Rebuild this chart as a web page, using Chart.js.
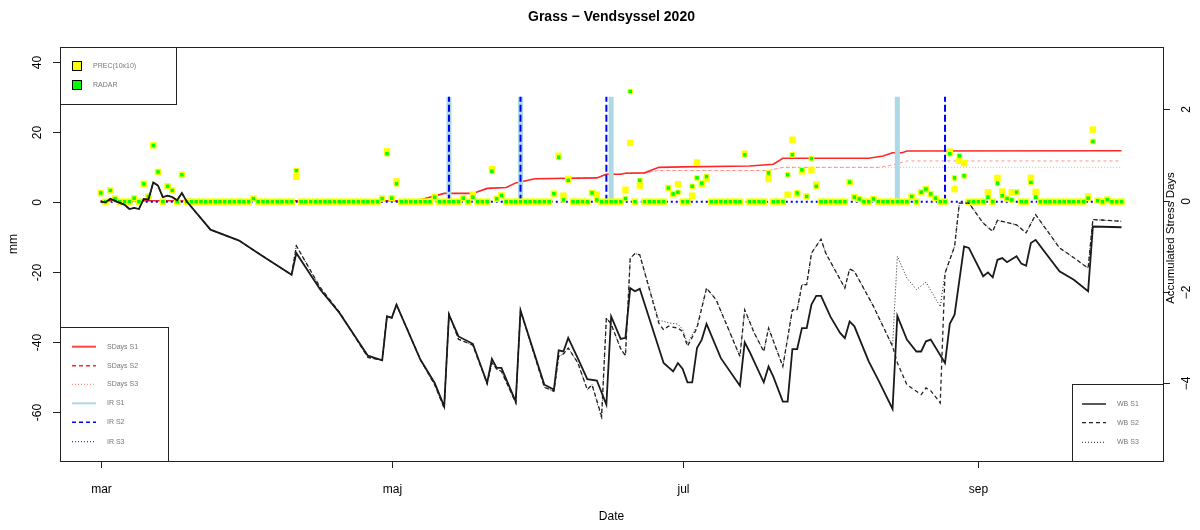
<!DOCTYPE html>
<html>
<head>
<meta charset="utf-8">
<script src="https://cdn.jsdelivr.net/npm/chart.js@4.4.0/dist/chart.umd.min.js"></script>
<style>
  html, body { margin: 0; padding: 0; background: #fff; }
  canvas { display: block; }
</style>
</head>
<body>
<canvas id="grassChart" width="1200" height="530"></canvas>
<script>
// day 0 = 1 March 2020, one value per day up to day 214
const xTickDays = [0, 61, 122, 184];
const xTickLabels = ['mar', 'maj', 'jul', 'sep'];
const yTicks = [-60, -40, -20, 0, 20, 40];
const y2Ticks = [-4, -2, 0, 2];

// daily precipitation, mm (PREC 10x10 grid and radar)
const precVals = [
  2.5, 0, 3.2, 0.9, 0, 0, 0, 1.0, 0, 5.1,
  1.5, 16.1, 8.5, 0, 4.4, 3.2, 0, 7.7, 0, 0,
  0, 0, 0, 0, 0, 0, 0, 0, 0, 0,
  0, 0, 0.9, 0, 0, 0, 0, 0, 0, 0,
  0, 7.1, 0, 0, 0, 0, 0, 0, 0, 0,
  0, 0, 0, 0, 0, 0, 0, 0, 0, 0.9,
  14.4, 1.0, 5.8, 0, 0, 0, 0, 0, 0, 0,
  1.3, 0, 0, 0, 0, 0, 1.0, 0, 2.0, 0,
  0, 0, 9.3, 0.8, 1.8, 0, 0, 0, 0, 0,
  0, 0, 0, 0, 0, 2.3, 13.1, 1.7, 6.5, 0,
  0, 0, 0, 2.5, 2.0, 0, 0, 0, 0, 0,
  3.4, 16.8, 0, 4.6, 0, 0, 0, 0, 0, 3.9,
  2.2, 5.0, 0, 0, 1.7, 11.2, 4.9, 6.5, 0, 0,
  0, 0, 0, 0, 0, 13.7, 0, 0, 0, 0,
  6.5, 0, 0, 0, 2.0, 17.7, 2.3, 8.7, 1.5, 9.1,
  4.9, 0, 0, 0, 0, 0, 0, 5.6, 1.3, 0.8,
  0, 0, 0.8, 0, 0, 0, 0, 0, 0, 0,
  1.5, 0, 2.7, 3.6, 2.2, 1.0, 0, 0, 14.3, 3.6,
  11.7, 11.0, 0, 0, 0, 0, 2.7, 0, 6.8, 2.9,
  0.9, 2.7, 2.7, 0, 0, 6.8, 2.8, 0, 0, 0,
  0, 0, 0, 0, 0, 0, 0, 1.5, 20.6, 0.3,
  0, 0.6, 0, 0, 0
];
const radarVals = [
  2.5, 0, 3.2, 0.9, 0, 0, 0, 1.0, 0, 5.1,
  1.5, 16.1, 8.5, 0, 4.4, 3.2, 0, 7.7, 0, 0,
  0, 0, 0, 0, 0, 0, 0, 0, 0, 0,
  0, 0, 0.9, 0, 0, 0, 0, 0, 0, 0,
  0, 8.9, 0, 0, 0, 0, 0, 0, 0, 0,
  0, 0, 0, 0, 0, 0, 0, 0, 0, 0.9,
  13.7, 1.0, 5.1, 0, 0, 0, 0, 0, 0, 0,
  1.3, 0, 0, 0, 0, 0, 1.0, 0, 1.3, 0,
  0, 0, 8.7, 0.8, 1.8, 0, 0, 0, 0, 0,
  0, 0, 0, 0, 0, 2.3, 12.7, 0.5, 6.1, 0,
  0, 0, 0, 2.5, 0.5, 0, 0, 0, 0, 0,
  0.9, 31.5, 0, 6.1, 0, 0, 0, 0, 0, 3.9,
  2.2, 2.7, 0, 0, 4.4, 6.8, 5.3, 7.2, 0, 0,
  0, 0, 0, 0, 0, 13.4, 0, 0, 0, 0,
  8.2, 0, 0, 0, 7.7, 13.4, 2.5, 9.1, 1.5, 12.3,
  4.4, 0, 0, 0, 0, 0, 0, 5.6, 1.3, 0.8,
  0, 0, 0.8, 0, 0, 0, 0, 0, 0, 0,
  1.5, 0, 2.7, 3.6, 2.2, 1.0, 0, 0, 13.7, 6.8,
  13.1, 7.4, 0, 0, 0, 0, 1.3, 0, 5.3, 1.7,
  0.9, 0.5, 2.7, 0, 0, 5.5, 1.3, 0, 0, 0,
  0, 0, 0, 0, 0, 0, 0, 1.0, 17.2, 0.3,
  0, 0.6, 0, 0, 0
];

// irrigation events, mm
const irS1Days = [73, 88, 107, 167];
const irS1Vals = [30, 30, 30, 30];
const irS2Days = [73, 88, 106, 177];
const irS2Vals = [30, 30, 30, 30];
const irS3 = [[0, 0], [214, 0]];

// accumulated stress days [day, value]
const sdS1 = [[0, 0], [66, 0], [68, 0.05], [72, 0.16], [78, 0.16], [81, 0.27], [85, 0.29], [87, 0.39],
  [91, 0.48], [104, 0.5], [106, 0.58], [109, 0.58], [110, 0.6], [114, 0.61], [117, 0.73], [122, 0.74],
  [136, 0.76], [141, 0.8], [143, 0.93], [161, 0.93], [164, 0.98], [166, 1.05], [168, 1.05], [169, 1.09], [214, 1.095]];
const sdS2 = [[0, 0], [66, 0], [68, 0.05], [72, 0.16], [78, 0.16], [81, 0.27], [85, 0.29], [87, 0.39],
  [91, 0.48], [104, 0.5], [106, 0.58], [109, 0.58], [110, 0.6], [114, 0.61], [117, 0.66], [140, 0.66],
  [143, 0.73], [163, 0.73], [166, 0.78], [169, 0.87], [214, 0.87]];
const sdS3 = [[0, 0], [66, 0], [68, 0.05], [72, 0.16], [78, 0.16], [81, 0.27], [85, 0.29], [87, 0.39],
  [91, 0.48], [104, 0.5], [106, 0.58], [109, 0.58], [110, 0.6], [114, 0.61], [117, 0.66], [140, 0.66],
  [143, 0.73], [214, 0.73]];

// water balance, mm [day, value]
const wbS1 = [
  [0, 0], [1, -0.2], [2, 0.8], [5, -0.9], [6, -2.1], [7, -1.8], [8, -2.1], [9, 0.8], [10, 0.6],
  [11, 5.5], [12, 4.6], [13, 1.3], [14, 1.7], [15, 1.3], [16, 0.4], [17, 2.5], [18, 0.1],
  [23, -8], [29, -11.1], [33, -14.7], [40, -20.9], [41, -14.7], [46, -25.1], [50, -31.7],
  [56, -44], [59, -45.3], [60, -32.8], [61, -33.2], [62, -29.4], [67, -45.1], [70, -51.8],
  [72, -58.5], [73, -32.3], [75, -38.5], [78, -40.6], [81, -51.8], [82, -44.9], [83, -47.5],
  [84, -47.5], [87, -57.1], [88, -31.1], [93, -52.3], [95, -53.7], [96, -42.5], [97, -42.8],
  [98, -38.9], [100, -44.7], [102, -50.7], [104, -51.1], [106, -58.0], [107, -32.8], [109, -39.2],
  [110, -38.9], [111, -24.7], [112, -25.6], [113, -24.9], [118, -46.1], [120, -48.5], [121, -46.1],
  [122, -47.8], [123, -51.6], [124, -51.6], [125, -41.8], [126, -39.4], [127, -34.9], [130, -44.7],
  [134, -52.6], [135, -40.2], [136, -42.8], [139, -51.6], [140, -47.1], [141, -50], [143, -57.1],
  [144, -57.1], [145, -42.1], [146, -42.1], [147, -36.1], [148, -36.1], [149, -29.4], [150, -26.9],
  [151, -26.9], [153, -32.9], [155, -37.5], [156, -39], [157, -34.2], [158, -35.6], [161, -45.6],
  [163, -50.9], [166, -59.2], [167, -32.6], [169, -39.4], [171, -42.8], [172, -42.8], [173, -39.9],
  [174, -39.4], [177, -46.1], [178, -34.9], [179, -32.3], [181, -12.8], [182, -13.2], [185, -21.3],
  [186, -20.2], [187, -21.6], [188, -16.6], [189, -16.1], [190, -17.3], [192, -15.6], [193, -17.7],
  [194, -18.3], [195, -11.8], [196, -10.9], [201, -19.9], [204, -22.3], [207, -25.6], [208, -7.1],
  [214, -7.3]
];
const wbS2 = [
  [0, 0], [1, -0.2], [2, 0.8], [5, -0.9], [6, -2.1], [7, -1.8], [8, -2.1], [9, 0.8], [10, 0.6],
  [11, 5.5], [12, 4.6], [13, 1.3], [14, 1.7], [15, 1.3], [16, 0.4], [17, 2.5], [18, 0.1],
  [23, -8], [29, -11.1], [33, -14.7], [40, -20.9], [41, -12.6], [46, -24.5], [50, -31.5],
  [56, -44.5], [59, -45.3], [60, -32.5], [61, -33.2], [62, -29.4], [67, -45.1], [70, -52.3],
  [72, -59.0], [73, -32.0], [75, -39.3], [78, -41.0], [81, -52.0], [82, -46.0], [83, -47.8],
  [84, -48.5], [87, -57.5], [88, -31.1], [93, -53.0], [95, -54.2], [96, -44.2], [97, -43.5],
  [98, -41.8], [100, -46], [102, -53.7], [103, -52.3], [105, -61.3], [106, -33.2], [107, -35],
  [109, -42], [110, -44], [111, -16.2], [112, -14.8], [113, -15.2], [117, -34.7], [118, -36.6],
  [119, -35.6], [121, -36.1], [122, -37.1], [123, -41.3], [125, -36.1], [127, -24.7], [129, -28],
  [134, -44.2], [135, -30.9], [137, -37.5], [139, -42.8], [140, -36.1], [143, -47.1], [145, -30.9],
  [146, -30.9], [147, -23.7], [148, -23.7], [149, -14.7], [151, -10.7], [152, -14.7], [156, -24.7],
  [157, -19.2], [158, -19.9], [162, -29.9], [166, -41.3], [167, -46], [169, -52.3], [172, -55.1],
  [173, -53.2], [174, -54], [176, -57.5], [177, -20.4], [179, -12.8], [180, -0.4], [182, -0.4],
  [185, -6.1], [187, -8.5], [188, -5.3], [192, -6.6], [194, -8.9], [196, -3.7], [201, -13.2],
  [204, -16], [207, -19], [208, -5.1], [214, -5.6]
];
const wbS3 = [
  [0, 0], [1, -0.2], [2, 0.8], [5, -0.9], [6, -2.1], [7, -1.8], [8, -2.1], [9, 0.8], [10, 0.6],
  [11, 5.5], [12, 4.6], [13, 1.3], [14, 1.7], [15, 1.3], [16, 0.4], [17, 2.5], [18, 0.1],
  [23, -8], [29, -11.1], [33, -14.7], [40, -20.9], [41, -12.6], [46, -24.5], [50, -31.5],
  [56, -44.5], [59, -45.3], [60, -32.5], [61, -33.2], [62, -29.4], [67, -45.1], [70, -52.3],
  [72, -59.0], [73, -32.0], [75, -39.3], [78, -41.0], [81, -52.0], [82, -46.0], [83, -47.8],
  [84, -48.5], [87, -57.5], [88, -31.1], [93, -53.0], [95, -54.2], [96, -44.2], [97, -43.5],
  [98, -41.8], [100, -46], [102, -53.7], [103, -52.3], [105, -62.0], [106, -33.2], [107, -35],
  [109, -42], [110, -44], [111, -16.2], [112, -14.8], [113, -15.2], [117, -34.0], [118, -34.2],
  [119, -34.6], [121, -35.0], [122, -36.5], [123, -40.5], [125, -35.5], [127, -24.7], [129, -28],
  [134, -44.2], [135, -30.9], [137, -37.5], [139, -42.8], [140, -36.1], [143, -47.1], [145, -30.9],
  [146, -30.9], [147, -23.7], [148, -23.7], [149, -14.7], [151, -10.7], [152, -14.7], [156, -24.7],
  [157, -19.2], [158, -19.9], [162, -29.9], [166, -41.3], [167, -15.6], [169, -21.8], [171, -25.1],
  [173, -23], [176, -30], [177, -20.4], [179, -12.8], [180, -0.4], [182, -0.4],
  [185, -6.1], [187, -8.5], [188, -5.3], [192, -6.6], [194, -8.9], [196, -3.7], [201, -13.2],
  [204, -16], [207, -19], [208, -5.1], [214, -5.6]
];

const toPoints = pairs => pairs.map(([d, v]) => ({ x: d, y: v }));
const daily = vals => vals.map((v, d) => ({ x: d, y: v }));
const spikes = (days, vals) => days.flatMap((d, i) => [{ x: d, y: 0 }, { x: d, y: vals[i] }, { x: d, y: null }]);

const lineDs = (label, data, color, width, dash, order, axis) => ({
  label, data, showLine: true, spanGaps: false, borderColor: color, borderWidth: width,
  borderDash: dash, pointRadius: 0, pointHoverRadius: 0, tension: 0, fill: false,
  order, yAxisID: axis || 'y'
});

const FONT = '"Liberation Sans", Arial, sans-serif';

const rPlot = {
  id: 'rPlot',
  afterDatasetsDraw(chart) {
    const { ctx, chartArea: a, scales: { x, y, y2 } } = chart;
    ctx.save();
    ctx.fillStyle = '#000';
    ctx.strokeStyle = '#000';
    ctx.lineWidth = 1;
    ctx.setLineDash([]);

    const vtext = (txt, cx, cy) => {
      ctx.save();
      ctx.translate(cx, cy);
      ctx.rotate(-Math.PI / 2);
      ctx.fillText(txt, 0, 0);
      ctx.restore();
    };

    // title
    ctx.font = 'bold 14px ' + FONT;
    ctx.textAlign = 'center';
    ctx.textBaseline = 'middle';
    ctx.fillText('Grass \u2212 Vendsyssel 2020', (a.left + a.right) / 2, 17);

    // legends
    const drawBox = (x0, y0, x1, y1) => {
      ctx.fillStyle = '#fff';
      ctx.fillRect(x0, y0, x1 - x0, y1 - y0);
      ctx.strokeStyle = '#222';
      ctx.setLineDash([]);
      ctx.lineWidth = 1;
      ctx.strokeRect(Math.round(x0) + 0.5, Math.round(y0) + 0.5, Math.round(x1 - x0), Math.round(y1 - y0));
    };
    const lineEntries = (entries, x0, x1, tx, rows) => {
      entries.forEach((e, i) => {
        ctx.beginPath();
        ctx.strokeStyle = e.color;
        ctx.lineWidth = e.width;
        ctx.setLineDash(e.dash);
        ctx.moveTo(x0, rows[i]);
        ctx.lineTo(x1, rows[i]);
        ctx.stroke();
        ctx.setLineDash([]);
        ctx.fillStyle = '#777';
        ctx.font = '7px ' + FONT;
        ctx.textAlign = 'left';
        ctx.textBaseline = 'middle';
        ctx.fillText(e.label, tx, rows[i]);
      });
    };

    drawBox(a.left, a.top, 176, 104);
    [['#ffff00', 'PREC(10x10)', 66], ['#00ff00', 'RADAR', 85]].forEach(([c, t, ry]) => {
      ctx.fillStyle = c;
      ctx.fillRect(73, ry - 4, 8, 8);
      ctx.strokeStyle = '#000';
      ctx.lineWidth = 1;
      ctx.strokeRect(72.5, ry - 4.5, 9, 9);
      ctx.fillStyle = '#777';
      ctx.font = '7px ' + FONT;
      ctx.textAlign = 'left';
      ctx.textBaseline = 'middle';
      ctx.fillText(t, 93, ry);
    });

    drawBox(a.left, 327, 168, a.bottom);
    lineEntries([
      { label: 'SDays S1', color: 'rgb(255,70,70)', width: 2, dash: [] },
      { label: 'SDays S2', color: 'rgb(255,40,40)', width: 1.5, dash: [4, 3] },
      { label: 'SDays S3', color: 'rgba(255,60,60,0.7)', width: 1, dash: [1, 2] },
      { label: 'IR S1', color: '#add8e6', width: 2, dash: [] },
      { label: 'IR S2', color: '#0000ff', width: 1.5, dash: [4, 3] },
      { label: 'IR S3', color: '#0000ff', width: 1, dash: [1, 2] }
    ], 72, 96, 107, [346.7, 365.7, 384.3, 403.3, 422.3, 441.7]);

    drawBox(1072, 384, a.right, a.bottom);
    lineEntries([
      { label: 'WB S1', color: '#222', width: 1.5, dash: [] },
      { label: 'WB S2', color: '#222', width: 1.3, dash: [4, 3] },
      { label: 'WB S3', color: '#222', width: 1, dash: [1, 2] }
    ], 1082, 1106, 1117, [404, 422.7, 442.3]);

    // plot box
    ctx.strokeStyle = '#222';
    ctx.lineWidth = 1;
    ctx.setLineDash([]);
    ctx.strokeRect(a.left + 0.5, a.top + 0.5, a.right - a.left, a.bottom - a.top);

    // axes
    ctx.fillStyle = '#000';
    ctx.font = '12px ' + FONT;
    ctx.textAlign = 'center';
    ctx.textBaseline = 'middle';
    ctx.beginPath();
    xTickDays.forEach((d, i) => {
      const px = Math.round(x.getPixelForValue(d)) + 0.5;
      ctx.moveTo(px, a.bottom);
      ctx.lineTo(px, a.bottom + 7);
      ctx.fillText(xTickLabels[i], px, 490);
    });
    yTicks.forEach(v => {
      const py = Math.round(y.getPixelForValue(v)) + 0.5;
      ctx.moveTo(a.left, py);
      ctx.lineTo(a.left - 7, py);
      vtext(String(v), 38, py);
    });
    y2Ticks.forEach(v => {
      const py = Math.round(y2.getPixelForValue(v)) + 0.5;
      ctx.moveTo(a.right, py);
      ctx.lineTo(a.right + 7, py);
      vtext(v < 0 ? '\u2212' + Math.abs(v) : String(v), 1187, py);
    });
    ctx.stroke();

    ctx.fillText('Date', (a.left + a.right) / 2, 517);
    vtext('mm', 14, 244);
    ctx.font = '11.5px ' + FONT;
    vtext('Accumulated Stress Days', 1171, 238);
    ctx.restore();
  }
};

new Chart(document.getElementById('grassChart'), {
  type: 'scatter',
  data: {
    datasets: [
      lineDs('SDays S3', toPoints(sdS3), 'rgba(255,60,60,0.45)', 1, [1, 2], 9, 'y2'),
      lineDs('SDays S2', toPoints(sdS2), 'rgba(255,40,40,0.5)', 1, [3, 3], 8, 'y2'),
      lineDs('SDays S1', toPoints(sdS1), 'rgb(255,40,40)', 1.6, [], 7, 'y2'),
      lineDs('IR S1', spikes(irS1Days, irS1Vals), '#add8e6', 5, [], 6),
      lineDs('IR S2', spikes(irS2Days, irS2Vals), '#0000ff', 2, [7, 3], 5),
      lineDs('IR S3', toPoints(irS3), '#0000ff', 2, [2, 3], 4),
      {
        label: 'PREC(10x10)', data: daily(precVals), pointStyle: 'rect', pointRadius: 4.6,
        backgroundColor: '#ffff00', borderWidth: 0, order: 3
      },
      {
        label: 'RADAR', data: daily(radarVals), pointStyle: 'rect', pointRadius: 3.2,
        backgroundColor: '#00ff00', borderColor: '#ffff00', borderWidth: 1, order: 2
      },
      lineDs('WB S3', toPoints(wbS3), '#222', 1, [1, 2], 1),
      lineDs('WB S2', toPoints(wbS2), '#222', 1.3, [4, 3], 1),
      lineDs('WB S1', toPoints(wbS1), '#1a1a1a', 1.8, [], 0)
    ]
  },
  options: {
    responsive: false,
    devicePixelRatio: 1,
    animation: false,
    events: [],
    layout: { padding: { left: 60, right: 37, top: 47, bottom: 69 } },
    plugins: { legend: { display: false }, tooltip: { enabled: false }, title: { display: false } },
    scales: {
      x: { type: 'linear', display: false, min: -8.55, max: 222.7 },
      y: { type: 'linear', display: false, min: -74.09, max: 44.2 },
      y2: { type: 'linear', display: false, position: 'right', min: -5.70, max: 3.366 }
    }
  },
  plugins: [rPlot]
});
</script>
</body>
</html>
